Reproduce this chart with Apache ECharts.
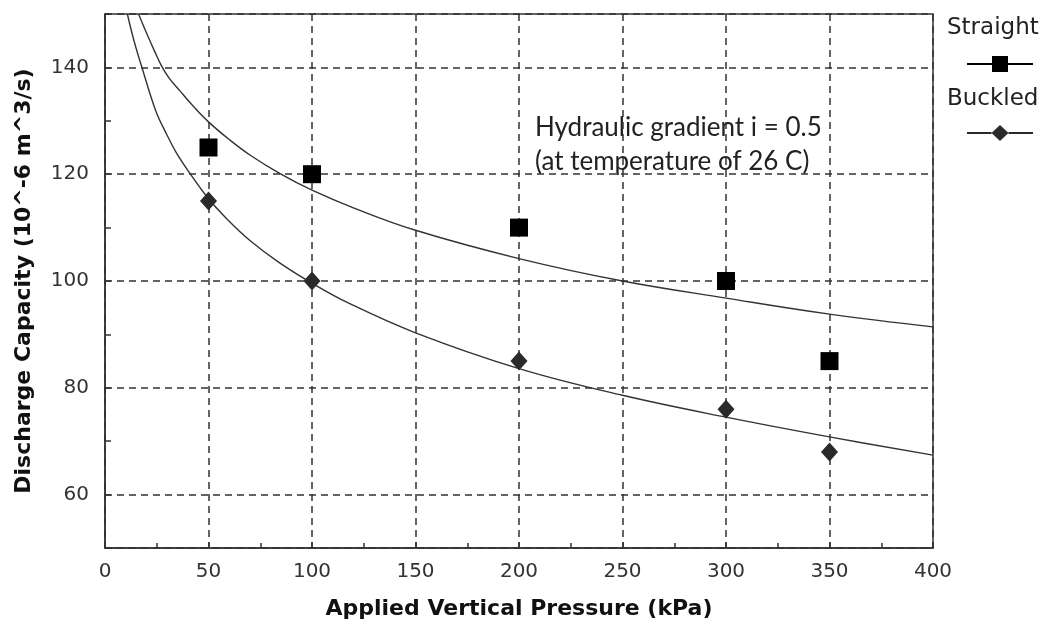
<!DOCTYPE html>
<html>
<head>
<meta charset="utf-8">
<script src="https://cdn.jsdelivr.net/npm/echarts@6/dist/echarts.min.js"></script>
<style>
  html, body { margin: 0; padding: 0; background: #fff; }
  #chart { width: 1047px; height: 626px; }
</style>
</head>
<body>
<div id="chart"></div>
<script>
// measured points
const pressure = [50, 100, 200, 300, 350];
const straight = [125, 120, 110, 100, 85];
const buckled = [115, 100, 85, 76, 68];

// fitted curves
const straightFitX = [16.2, 20, 24, 27.3, 31, 36, 42, 50, 60, 70, 85, 100, 120, 150, 200, 250, 300, 350, 400];
const straightFitY = [150, 146.5, 143, 140.3, 138, 135.7, 133, 129.8, 126.5, 123.6, 120, 117, 113.7, 109.5, 104.2, 100, 96.8, 93.8, 91.4];
const buckledFitX = [10.8, 14, 18, 24.5, 30, 34.2, 40.6, 50, 60, 70, 84, 100, 118, 150, 200, 250, 300, 350, 400];
const buckledFitY = [150, 145, 139.8, 131.9, 127.3, 124.2, 120.4, 115.4, 111.2, 107.6, 103.5, 99.6, 95.8, 90.3, 83.6, 78.6, 74.5, 70.8, 67.4];

const zip = (a, b) => a.map((v, i) => [v, b[i]]);

const gridLine = { show: true, lineStyle: { color: '#333', width: 1.5, type: [7, 5] } };
const tickFont = { fontFamily: 'DejaVu Sans', fontSize: 20, color: '#333' };
const nameFont = { fontFamily: 'DejaVu Sans', fontSize: 22, fontWeight: 'bold', color: '#111' };

const squareIcon = 'path://M0,7H25V9H0Z M25,0H41V16H25Z M41,7H66V9H41Z';
const diamondIcon = 'path://M0,7H24.5V9H0Z M33,0L41.5,8L33,16L24.5,8Z M41.5,7H66V9H41.5Z';

var myChart = echarts.init(document.getElementById('chart'));

const option = {
  animation: false,
  grid: { left: 105, right: 114, top: 14, bottom: 78, show: true, borderColor: '#333', borderWidth: 1.5 },
  legend: [
    {
      // icons
      left: 962, top: 51, orient: 'vertical', itemWidth: 66, itemHeight: 16, itemGap: 53,
      selectedMode: false, formatter: () => '',
      data: [
        { name: 'Straight', icon: squareIcon },
        { name: 'Buckled', icon: diamondIcon }
      ]
    },
    {
      // names
      left: 937, top: 12, orient: 'vertical', itemWidth: 0, itemHeight: 0, itemGap: 48,
      selectedMode: false,
      textStyle: { fontFamily: 'DejaVu Sans', fontSize: 23, color: '#222' },
      data: ['Straight', 'Buckled']
    }
  ],
  graphic: [
    {
      type: 'text', left: 535, top: 111,
      style: {
        text: 'Hydraulic gradient i = 0.5\n(at temperature of 26 C)',
        font: '26px Lato', fill: '#222', lineHeight: 34
      }
    }
  ],
  xAxis: {
    type: 'value', min: 0, max: 400, interval: 50,
    name: 'Applied Vertical Pressure (kPa)', nameLocation: 'middle', nameGap: 50,
    nameTextStyle: nameFont,
    axisLine: { lineStyle: { color: '#333', width: 1.5 } },
    axisTick: { inside: true, length: 6, lineStyle: { color: '#333', width: 1.5 } },
    minorTick: { show: true, splitNumber: 2, length: 5, lineStyle: { color: '#333', width: 1.5 } },
    axisLabel: Object.assign({ margin: 14 }, tickFont),
    splitLine: gridLine
  },
  yAxis: [
    {
      type: 'value', min: 50, max: 150, interval: 10,
      name: 'Discharge Capacity (10^-6 m^3/s)', nameLocation: 'middle', nameGap: 70,
      nameTextStyle: nameFont,
      axisLine: { show: true, lineStyle: { color: '#333', width: 1.5 } },
      axisTick: { show: true, inside: true, length: 6, lineStyle: { color: '#333', width: 1.5 } },
      axisLabel: Object.assign({
        margin: 16,
        formatter: v => (v % 20 === 0 && v > 50 && v < 150) ? String(v) : ''
      }, tickFont),
      splitLine: { show: false }
    },
    {
      // only for the dashed grid every 20
      type: 'value', min: 50, max: 150, splitNumber: 5, position: 'left',
      axisLine: { show: false }, axisTick: { show: false }, axisLabel: { show: false },
      splitLine: gridLine
    }
  ],
  series: [
    {
      name: 'Straight fit', type: 'line', data: zip(straightFitX, straightFitY),
      showSymbol: false, smooth: 0.4, clip: true, silent: true,
      lineStyle: { color: '#333', width: 1.4 }, z: 2
    },
    {
      name: 'Buckled fit', type: 'line', data: zip(buckledFitX, buckledFitY),
      showSymbol: false, smooth: 0.4, clip: true, silent: true,
      lineStyle: { color: '#333', width: 1.4 }, z: 2
    },
    {
      name: 'Straight', type: 'scatter', data: zip(pressure, straight),
      symbol: 'rect', symbolSize: 18, itemStyle: { color: '#000', opacity: 1 }, z: 3
    },
    {
      name: 'Buckled', type: 'scatter', data: zip(pressure, buckled),
      symbol: 'diamond', symbolSize: [17, 19], itemStyle: { color: '#2a2a2a', opacity: 1 }, z: 3
    }
  ]
};

myChart.setOption(option);
</script>
</body>
</html>
